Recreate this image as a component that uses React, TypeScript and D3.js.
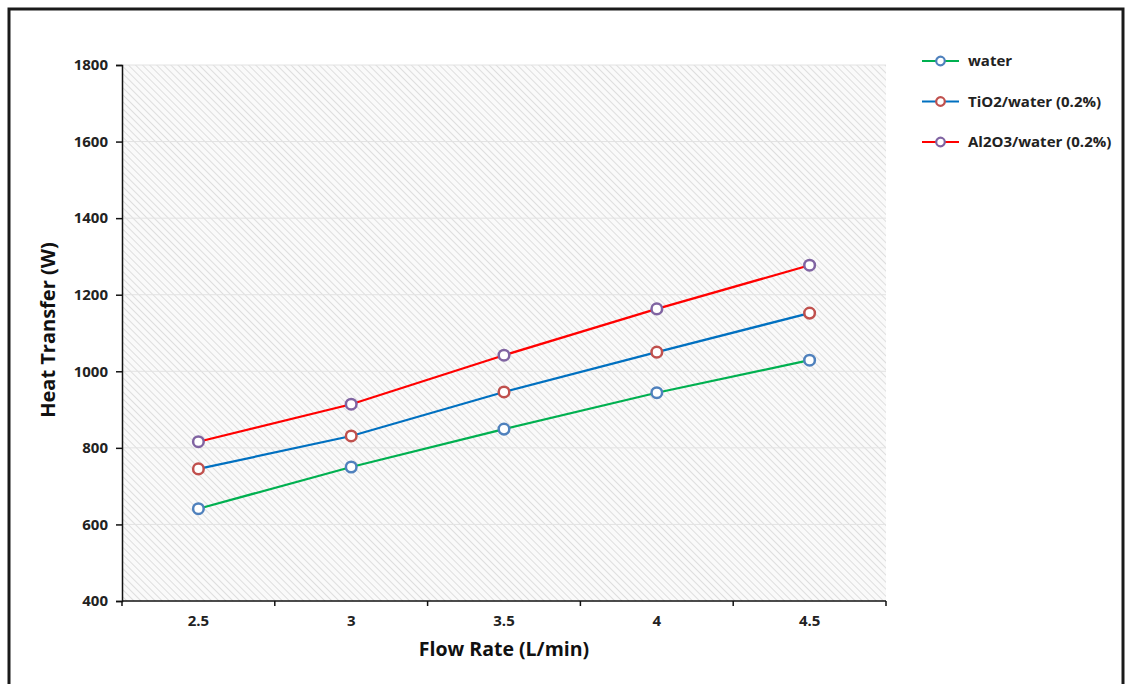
import React, { useRef, useEffect } from "react";
import * as d3 from "d3";

const flowRates = ["2.5", "3", "3.5", "4", "4.5"];
const waterValues = [641, 750, 849, 944, 1029];
const tio2Values = [745, 831, 946, 1050, 1152];
const al2o3Values = [816, 914, 1042, 1163, 1277];
const yTicks = [400, 600, 800, 1000, 1200, 1400, 1600, 1800];

const seriesList = [
    { name: "water", values: waterValues, line: "#00b050", marker: "#4f81bd" },
    { name: "TiO2/water (0.2%)", values: tio2Values, line: "#0070c0", marker: "#c0504d" },
    { name: "Al2O3/water (0.2%)", values: al2o3Values, line: "#ff0000", marker: "#8064a2" },
];

const W = 1125;
const H = 684;
const FONT = "'Open Sans', 'DejaVu Sans', sans-serif";

const App = () => {
    const svgRef = useRef<SVGSVGElement>(null);

    useEffect(() => {
        if (!svgRef.current) return;
        const svg = d3.select(svgRef.current);
        svg.selectAll("*").remove();

        const margin = { top: 65, left: 122, right: W - 886, bottom: H - 601 };
        const innerW = W - margin.left - margin.right;
        const innerH = H - margin.top - margin.bottom;

        // outer frame
        svg.append("rect")
            .attr("x", 9).attr("y", 9)
            .attr("width", 1114).attr("height", 700)
            .attr("fill", "#fff")
            .attr("stroke", "#1a1a1a")
            .attr("stroke-width", 3);

        // hatch pattern (lines running top-left to bottom-right)
        const defs = svg.append("defs");
        const pat = defs.append("pattern")
            .attr("id", "hatch")
            .attr("patternUnits", "userSpaceOnUse")
            .attr("width", 5).attr("height", 5)
            .attr("patternTransform", "rotate(45)");
        pat.append("rect").attr("width", 5).attr("height", 5).attr("fill", "#fafafa");
        pat.append("line")
            .attr("x1", 0).attr("y1", 0).attr("x2", 5).attr("y2", 0)
            .attr("stroke", "#d2d2d2").attr("stroke-width", 1.4);

        const chart = svg.append("g")
            .attr("transform", `translate(${margin.left},${margin.top})`);

        const x = d3.scaleBand().domain(flowRates).range([0, innerW]);
        const y = d3.scaleLinear().domain([400, 1800]).range([innerH, 0]);

        chart.append("rect")
            .attr("width", innerW).attr("height", innerH)
            .attr("fill", "url(#hatch)");

        // gridlines
        chart.selectAll(".grid")
            .data(yTicks.slice(1))
            .enter()
            .append("line")
            .attr("x1", 0).attr("x2", innerW)
            .attr("y1", (d) => y(d)).attr("y2", (d) => y(d))
            .attr("stroke", "#e2e2e2")
            .attr("stroke-width", 1);

        // y axis
        const yAxis = chart.append("g")
            .call(d3.axisLeft(y).tickValues(yTicks).tickFormat(d3.format("d")).tickSize(6).tickPadding(8));
        yAxis.selectAll("text")
            .style("font-family", FONT)
            .style("font-size", "15px")
            .style("font-weight", "bold")
            .style("fill", "#222");
        yAxis.selectAll("line, path").attr("stroke", "#111").attr("stroke-width", 1.5);

        // x axis
        const xAxis = chart.append("g").attr("transform", `translate(0,${innerH})`);
        xAxis.append("line")
            .attr("x1", 0).attr("x2", innerW)
            .attr("stroke", "#111").attr("stroke-width", 1.5);
        const bounds = [...flowRates.map((d) => x(d) as number), innerW];
        xAxis.selectAll(".xt")
            .data(bounds)
            .enter()
            .append("line")
            .attr("x1", (d) => d).attr("x2", (d) => d)
            .attr("y1", 0).attr("y2", 5)
            .attr("stroke", "#111").attr("stroke-width", 1.5);
        xAxis.selectAll(".xl")
            .data(flowRates)
            .enter()
            .append("text")
            .attr("x", (d) => (x(d) as number) + x.bandwidth() / 2)
            .attr("y", 25)
            .attr("text-anchor", "middle")
            .style("font-family", FONT)
            .style("font-size", "15px")
            .style("font-weight", "bold")
            .style("fill", "#222")
            .text((d) => d);

        // axis titles
        svg.append("text")
            .attr("x", margin.left + innerW / 2)
            .attr("y", 656)
            .attr("text-anchor", "middle")
            .style("font-family", FONT)
            .style("font-size", "19.5px")
            .style("font-weight", "bold")
            .style("fill", "#111")
            .text("Flow Rate (L/min)");

        svg.append("text")
            .attr("transform", `translate(55,${margin.top + innerH / 2 - 3}) rotate(-90)`)
            .attr("text-anchor", "middle")
            .style("font-family", FONT)
            .style("font-size", "20px")
            .style("font-weight", "bold")
            .style("fill", "#111")
            .text("Heat Transfer (W)");

        const cx = (i: number) => (x(flowRates[i]) as number) + x.bandwidth() / 2;
        const line = d3.line<number>()
            .x((_, i) => cx(i))
            .y((d) => y(d));

        seriesList.forEach((s) => {
            chart.append("path")
                .datum(s.values)
                .attr("fill", "none")
                .attr("stroke", s.line)
                .attr("stroke-width", 2.2)
                .attr("d", line);
        });
        seriesList.forEach((s) => {
            chart.selectAll(null)
                .data(s.values)
                .enter()
                .append("circle")
                .attr("cx", (_, i) => cx(i))
                .attr("cy", (d) => y(d))
                .attr("r", 5.3)
                .attr("fill", "#fff")
                .attr("stroke", s.marker)
                .attr("stroke-width", 2.5);
        });

        // legend
        const legend = svg.append("g").attr("transform", "translate(922,61)");
        seriesList.forEach((s, i) => {
            const g = legend.append("g").attr("transform", `translate(0,${i * 40.5})`);
            g.append("line")
                .attr("x1", 0).attr("x2", 37)
                .attr("stroke", s.line).attr("stroke-width", 2.2);
            g.append("circle")
                .attr("cx", 18.5).attr("cy", 0).attr("r", 4.3)
                .attr("fill", "#fff")
                .attr("stroke", s.marker).attr("stroke-width", 2.2);
            g.append("text")
                .attr("x", 46).attr("y", 5)
                .style("font-family", FONT)
                .style("font-size", "15px")
                .style("font-weight", "bold")
                .style("fill", "#222")
                .text(s.name);
        });
    }, []);

    return (
        <svg
            ref={svgRef}
            width={W}
            height={H}
            style={{ position: "absolute", left: 0, top: 0, background: "#fff" }}
        />
    );
};

export default App;
